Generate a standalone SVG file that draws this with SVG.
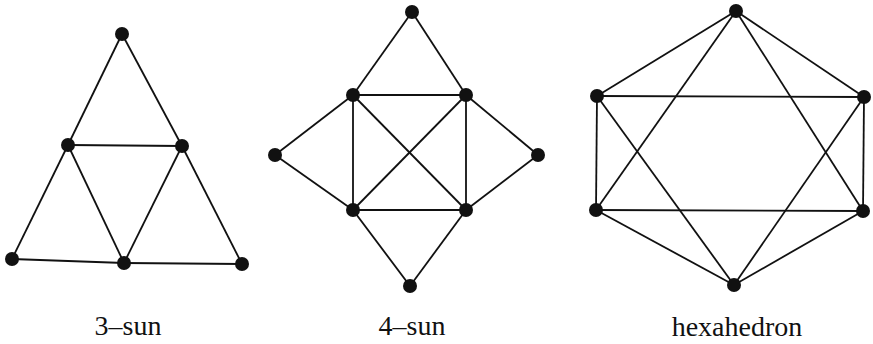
<svg xmlns="http://www.w3.org/2000/svg" width="873" height="344" viewBox="0 0 873 344">
<style>
.e{stroke:#111;stroke-width:1.8;fill:none}
.n{fill:#111}
.t{font-family:"Liberation Serif","DejaVu Serif",serif;font-size:28px;fill:#111;text-anchor:middle}
</style>
<rect width="873" height="344" fill="#fff"/>
<g id="connectors" class="e">
<!-- 3-sun -->
<line x1="122" y1="34" x2="68" y2="145"/>
<line x1="122" y1="34" x2="182" y2="146"/>
<line x1="68" y1="145" x2="182" y2="146"/>
<line x1="68" y1="145" x2="12" y2="259"/>
<line x1="68" y1="145" x2="124" y2="263"/>
<line x1="182" y1="146" x2="124" y2="263"/>
<line x1="182" y1="146" x2="242" y2="264"/>
<line x1="12" y1="259" x2="124" y2="263"/>
<line x1="124" y1="263" x2="242" y2="264"/>
<!-- 4-sun -->
<line x1="412" y1="12" x2="353" y2="95"/>
<line x1="412" y1="12" x2="466" y2="95"/>
<line x1="353" y1="95" x2="466" y2="95"/>
<line x1="353" y1="95" x2="353" y2="210"/>
<line x1="466" y1="95" x2="466" y2="210"/>
<line x1="353" y1="210" x2="466" y2="210"/>
<line x1="353" y1="95" x2="466" y2="210"/>
<line x1="466" y1="95" x2="353" y2="210"/>
<line x1="275" y1="155" x2="353" y2="95"/>
<line x1="275" y1="155" x2="353" y2="210"/>
<line x1="538" y1="155" x2="466" y2="95"/>
<line x1="538" y1="155" x2="466" y2="210"/>
<line x1="410" y1="286" x2="353" y2="210"/>
<line x1="410" y1="286" x2="466" y2="210"/>
<!-- hexahedron -->
<line x1="736" y1="11" x2="597" y2="96"/>
<line x1="736" y1="11" x2="864" y2="97"/>
<line x1="597" y1="96" x2="864" y2="97"/>
<line x1="597" y1="96" x2="596" y2="210"/>
<line x1="864" y1="97" x2="863" y2="211"/>
<line x1="596" y1="210" x2="863" y2="211"/>
<line x1="596" y1="210" x2="734" y2="285"/>
<line x1="863" y1="211" x2="734" y2="285"/>
<line x1="736" y1="11" x2="596" y2="210"/>
<line x1="736" y1="11" x2="863" y2="211"/>
<line x1="597" y1="96" x2="734" y2="285"/>
<line x1="864" y1="97" x2="734" y2="285"/>
</g>
<g id="sun3">
<circle class="n" cx="122" cy="34" r="7"/>
<circle class="n" cx="68" cy="145" r="7"/>
<circle class="n" cx="182" cy="146" r="7"/>
<circle class="n" cx="12" cy="259" r="7"/>
<circle class="n" cx="124" cy="263" r="7"/>
<circle class="n" cx="242" cy="264" r="7"/>
<text class="t" x="128" y="335">3–sun</text>
</g>
<g id="sun4">
<circle class="n" cx="412" cy="12" r="7"/>
<circle class="n" cx="353" cy="95" r="7"/>
<circle class="n" cx="466" cy="95" r="7"/>
<circle class="n" cx="275" cy="155" r="7"/>
<circle class="n" cx="538" cy="155" r="7"/>
<circle class="n" cx="353" cy="210" r="7"/>
<circle class="n" cx="466" cy="210" r="7"/>
<circle class="n" cx="410" cy="286" r="7"/>
<text class="t" x="412" y="335">4–sun</text>
</g>
<g id="hexahedron">
<circle class="n" cx="736" cy="11" r="7"/>
<circle class="n" cx="597" cy="96" r="7"/>
<circle class="n" cx="864" cy="97" r="7"/>
<circle class="n" cx="596" cy="210" r="7"/>
<circle class="n" cx="863" cy="211" r="7"/>
<circle class="n" cx="734" cy="285" r="7"/>
<text class="t" x="737" y="336">hexahedron</text>
</g>
</svg>
